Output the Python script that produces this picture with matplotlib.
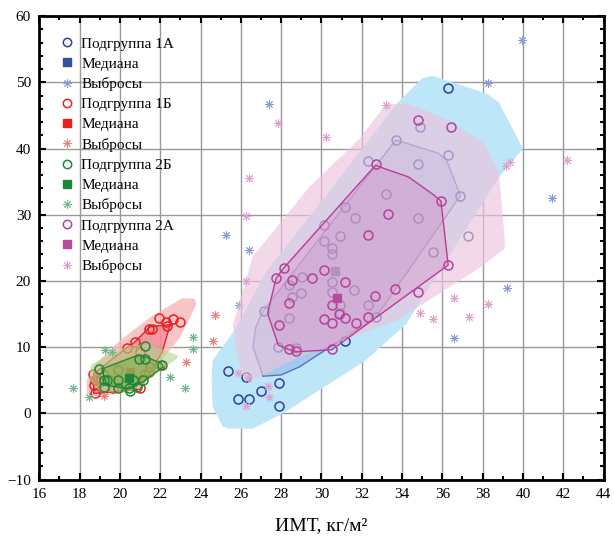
import numpy as np
import matplotlib
matplotlib.use("Agg")
import matplotlib.pyplot as plt
from matplotlib.lines import Line2D
from matplotlib.ticker import MultipleLocator

plt.rcParams['font.family'] = ['Liberation Serif', 'DejaVu Serif']

# Подгруппа 1А
g1a_x = [25.36, 26.27, 27.02, 27.91, 25.85, 26.41, 27.91, 36.29,
         27.14, 27.83, 33.69, 32.31, 34.79, 33.2, 31.19, 31.68, 34.79, 30.15,
         30.91, 30.15, 30.51, 30.51, 35.53, 29.03, 28.4, 30.51, 31.63, 29.01,
         28.52, 30.51, 28.4, 30.94, 30.94, 32.31, 32.69, 28.74, 31.17, 34.91,
         36.29, 36.9, 37.26]
g1a_y = [6.43, 5.44, 3.37, 4.53, 2.2, 2.2, 1.1, 49.2,
         15.5, 10.0, 41.3, 38.1, 37.6, 33.1, 31.1, 29.5, 29.5, 28.5,
         26.8, 26.0, 25.0, 24.1, 24.3, 20.6, 19.4, 19.9, 18.7, 18.2,
         17.6, 18.3, 14.4, 16.4, 15.2, 16.4, 14.6, 9.9, 11.0, 43.2,
         39.1, 32.9, 26.8]
g1a_med = (30.68, 21.5)
g1a_out_x = [27.42, 25.24, 26.41, 39.96, 38.28, 41.46, 39.19, 36.59, 25.9]
g1a_out_y = [46.8, 27.0, 24.7, 56.4, 49.9, 32.6, 18.9, 11.4, 16.3]
g1a_fence_x = [25.1, 25.4, 26.6, 28.1, 32.2, 34.2, 36.9, 38.8, 40.0, 38.8, 38.2,
               35.5, 35.0, 33.8, 30.0, 27.3, 25.7, 24.6, 24.55, 24.6]
g1a_fence_y = [-2.0, -2.3, -2.3, 0.0, 8.0, 13.5, 26.5, 35.6, 40.0, 47.0, 48.3,
               51.0, 50.6, 47.0, 32.0, 21.6, 12.6, 8.0, 5.5, 1.0]
g1a_bag_x = [33.69, 35.8, 36.2, 36.9, 32.7, 28.9, 28.0, 27.1, 26.6, 26.75, 27.12]
g1a_bag_y = [41.3, 39.3, 38.3, 32.9, 14.5, 7.0, 5.8, 5.6, 10.1, 13.1, 15.5]

# Подгруппа 1Б
g1b_x = [21.95, 22.3, 22.35, 22.64, 22.97, 21.46, 21.6, 20.75, 18.66, 18.77,
         18.73, 18.74, 21.0, 20.34, 21.0, 21.49, 21.45, 19.19, 19.02, 19.5,
         19.68, 20.75, 21.24, 21.98, 20.2, 19.9]
g1b_y = [14.4, 13.8, 13.2, 14.2, 13.8, 12.8, 12.8, 10.8, 5.9, 5.0,
         4.3, 3.0, 3.8, 9.8, 9.3, 7.0, 6.3, 5.8, 4.8, 5.0,
         3.8, 5.0, 6.0, 7.3, 4.2, 6.5]
g1b_med = (20.5, 6.2)
g1b_out_x = [24.7, 24.6, 23.3, 19.2]
g1b_out_y = [14.8, 10.9, 7.7, 2.6]
g1b_fence_x = [23.1, 23.7, 23.8, 23.0, 22.2, 21.5, 20.5, 19.0, 18.35, 18.35, 18.8, 20.0, 21.5]
g1b_fence_y = [17.4, 17.3, 16.5, 11.5, 8.5, 6.0, 3.5, 2.4, 3.0, 5.0, 7.5, 11.0, 14.5]
g1b_bag_x = [22.5, 21.5, 20.75, 20.3, 18.7, 18.7, 21.0, 22.1]
g1b_bag_y = [13.4, 13.1, 10.8, 9.8, 6.0, 3.0, 3.6, 9.3]

# Подгруппа 2Б
g2b_x = [21.24, 20.96, 21.24, 22.1, 18.94, 19.38, 19.19, 19.22, 19.93, 19.93,
         20.45, 20.5, 20.83, 21.13, 20.67]
g2b_y = [10.2, 8.2, 8.2, 7.35, 6.7, 5.0, 5.1, 4.0, 5.0, 3.8,
         3.9, 3.4, 4.0, 5.0, 5.0]
g2b_med = (20.45, 5.4)
g2b_out_x = [17.67, 18.48, 19.27, 19.6, 23.63, 23.63, 22.48, 23.25]
g2b_out_y = [3.9, 2.5, 9.6, 9.2, 11.6, 9.7, 5.5, 3.9]
g2b_fence_x = [18.55, 19.5, 20.5, 21.5, 22.9, 22.8, 22.0, 21.0, 20.3, 19.0, 18.5]
g2b_fence_y = [7.3, 8.9, 10.3, 10.4, 8.7, 8.2, 6.5, 4.0, 3.0, 3.3, 5.0]
g2b_bag_x = [19.1, 20.9, 21.35, 22.07, 22.15, 21.16, 20.5, 19.35]
g2b_bag_y = [6.7, 8.8, 8.45, 7.55, 7.0, 4.8, 3.7, 4.2]

# Подгруппа 2А
g2a_x = [34.79, 36.42, 32.69, 35.93, 33.29, 32.31, 36.29, 28.12, 27.74, 28.52,
         29.51, 30.13, 31.18, 28.4, 30.51, 27.91, 30.13, 30.51, 30.87, 31.18,
         31.7, 28.4, 28.73, 30.51, 33.67, 34.79, 32.64, 32.31]
g2a_y = [44.3, 43.2, 37.6, 32.1, 30.1, 27.0, 22.4, 22.0, 20.5, 20.1,
         20.5, 21.6, 19.9, 16.6, 16.4, 13.3, 14.2, 13.7, 15.0, 14.35,
         13.6, 9.7, 9.4, 9.7, 18.8, 18.3, 17.8, 14.6]
g2a_med = (30.79, 17.5)
g2a_out_x = [27.86, 30.25, 33.2, 26.4, 26.25, 26.25, 25.85, 26.35, 27.33, 27.42,
             26.25, 42.2, 39.17, 39.37, 36.57, 38.28, 34.9, 35.52, 37.3]
g2a_out_y = [43.9, 41.8, 46.6, 35.6, 29.8, 20.0, 6.1, 5.3, 4.1, 2.5,
             1.1, 38.3, 37.3, 38.0, 17.5, 16.5, 15.1, 14.2, 14.6]
g2a_fence_x = [33.2, 34.3, 36.1, 38.1, 38.8, 39.1, 39.1, 37.9, 33.8, 28.9, 27.0,
               26.4, 26.0, 25.6, 26.6, 29.4, 31.9]
g2a_fence_y = [46.7, 46.8, 44.6, 40.8, 36.5, 26.4, 24.9, 22.1, 14.1, 8.5, 5.6,
               4.9, 6.0, 13.3, 23.7, 34.2, 41.5]
g2a_bag_x = [32.69, 33.1, 34.33, 35.57, 35.93, 36.29, 30.51, 28.73, 28.4, 27.86,
             27.33, 27.75, 28.14]
g2a_bag_y = [37.5, 37.0, 35.7, 33.0, 32.1, 22.4, 9.6, 9.3, 9.6, 10.3,
             15.1, 20.4, 22.0]

ast = (8, 2, 0)


def draw_group(ax, fx, fy, fence_c, fence_a, bx, by, bag_c, bag_a, edge_c,
               px, py, pt_c, ox, oy, out_c, med, med_c):
    ax.fill(fx, fy, color=fence_c, alpha=fence_a, lw=0, zorder=2)
    ax.fill(bx, by, facecolor=bag_c, alpha=bag_a, lw=0, zorder=2)
    ax.fill(bx, by, facecolor='none', edgecolor=edge_c, lw=1.0, zorder=2)
    ax.plot(px, py, 'o', mfc='none', mec=pt_c, ms=6.5, mew=1.1, zorder=2)
    ax.plot(ox, oy, ls='none', marker=ast, color=out_c, ms=6, mew=0.7, zorder=2)
    ax.plot([med[0]], [med[1]], 's', color=med_c, ms=5.5, zorder=2)


fig = plt.figure(figsize=(6.14, 5.4), dpi=100)
ax = fig.add_axes([0.064, 0.112, 0.919, 0.858])

draw_group(ax, g1a_fence_x, g1a_fence_y, '#bde6f8', 1.0, g1a_bag_x, g1a_bag_y,
           '#8cb4e6', 0.55, '#6a6ab8', g1a_x, g1a_y, '#2b3f9e',
           g1a_out_x, g1a_out_y, '#8a9ad8', g1a_med, '#3050a0')
draw_group(ax, g1b_fence_x, g1b_fence_y, '#f8b8b8', 0.8, g1b_bag_x, g1b_bag_y,
           '#f06070', 0.45, '#e82030', g1b_x, g1b_y, '#e82020',
           g1b_out_x, g1b_out_y, '#f08080', g1b_med, '#e82020')
draw_group(ax, g2b_fence_x, g2b_fence_y, '#b0d488', 0.6, g2b_bag_x, g2b_bag_y,
           '#6ab040', 0.5, '#1a8a30', g2b_x, g2b_y, '#1a8a3a',
           g2b_out_x, g2b_out_y, '#70b890', g2b_med, '#1a8a3a')
draw_group(ax, g2a_fence_x, g2a_fence_y, '#ecc3dc', 0.65, g2a_bag_x, g2a_bag_y,
           '#d070b8', 0.25, '#b83c96', g2a_x, g2a_y, '#b8409a',
           g2a_out_x, g2a_out_y, '#e0a0d0', g2a_med, '#b84a9a')

ax.set_xlim(16, 44)
ax.set_ylim(-10, 60)
ax.xaxis.set_major_locator(MultipleLocator(2))
ax.xaxis.set_minor_locator(MultipleLocator(1))
ax.yaxis.set_major_locator(MultipleLocator(10))
ax.yaxis.set_minor_locator(MultipleLocator(2))
ax.grid(True, which='major', color='#999999', lw=1.0, zorder=1)
ax.set_axisbelow(True)
ax.tick_params(which='both', direction='in', top=True, right=True,
               labelsize=11, width=1.5, pad=6)
ax.tick_params(which='major', length=5)
ax.tick_params(which='minor', length=3)
for s in ax.spines.values():
    s.set_linewidth(2)
ax.set_xlabel('ИМТ, кг/м²', fontsize=14, labelpad=12)

handles = []
labels = []
for name, pc, mc, oc in [('Подгруппа 1А', '#2b3f9e', '#3050a0', '#8a9ad8'),
                         ('Подгруппа 1Б', '#e82020', '#e82020', '#f08080'),
                         ('Подгруппа 2Б', '#1a8a3a', '#1a8a3a', '#70b890'),
                         ('Подгруппа 2А', '#b8409a', '#b84a9a', '#e0a0d0')]:
    handles.append(Line2D([], [], ls='none', marker='o', mfc='none', mec=pc, ms=6, mew=1.1))
    labels.append(name)
    handles.append(Line2D([], [], ls='none', marker='s', color=mc, ms=5.5))
    labels.append('Медиана')
    handles.append(Line2D([], [], ls='none', marker=ast, color=oc, ms=6, mew=0.7))
    labels.append('Выбросы')

ax.legend(handles, labels, loc='upper left', bbox_to_anchor=(0.02, 0.975),
          frameon=False, fontsize=11, handlelength=1.0, handletextpad=0.4,
          labelspacing=0.42, borderaxespad=0.2)

fig.savefig('out.png', dpi=100)
